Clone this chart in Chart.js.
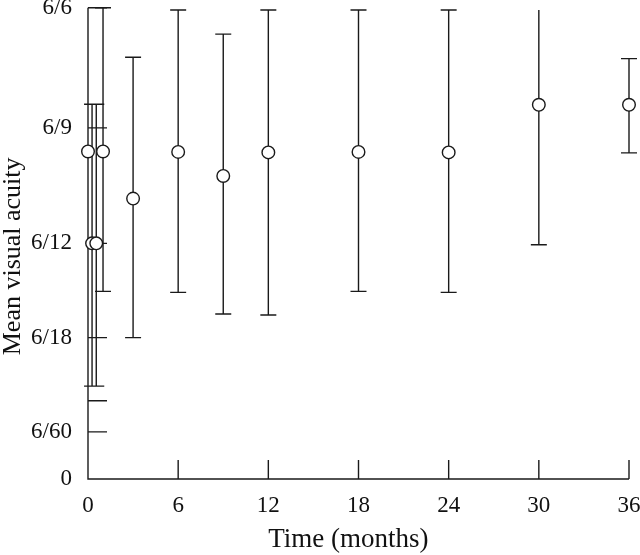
<!DOCTYPE html>
<html>
<head>
<meta charset="utf-8">
<script src="https://cdn.jsdelivr.net/npm/chart.js@4.4.1/dist/chart.umd.min.js"></script>
<style>
  html, body { margin: 0; padding: 0; background: #fff; }
  #wrap { width: 640px; height: 555px; }
</style>
</head>
<body>
<div id="wrap"><canvas id="c" width="640" height="555"></canvas></div>
<script>
// ---- data (time in months; acuity on the chart's own vertical scale) ----
const times  = [0, 0.27, 0.55, 1, 3, 6, 9, 12, 18, 24, 30, 36];
const means  = [6.95, 5.0, 5.0, 6.95, 5.95, 6.94, 6.43, 6.93, 6.94, 6.93, 7.94, 7.94];
const upper  = [null, 7.95, 7.95, 10.0, 8.95, 9.95, 9.44, 9.95, 9.95, 9.95, 9.95, 8.92];
const lower  = [null, 1.97, 1.97, 3.98, 3.0, 3.96, 3.5, 3.48, 3.98, 3.96, 4.97, 6.92];

const xTicks = [0, 6, 12, 18, 24, 30, 36];
const yTickValues = [0, 1, 1.66, 3, 5, 7.45, 10];
const yTickLabels = ['0', '6/60', '', '6/18', '6/12', '6/9', '6/6'];

const INK = '#1a1a1a';

const errorBars = {
  id: 'errorBars',
  beforeDatasetsDraw(chart) {
    const {ctx, scales: {x, y}} = chart;
    ctx.save();
    ctx.strokeStyle = INK;
    ctx.lineWidth = 1.4;
    ctx.beginPath();
    times.forEach((t, i) => {
      if (upper[i] == null || lower[i] == null) return;
      const px = x.getPixelForValue(t);
      const pt = y.getPixelForValue(upper[i]);
      const pb = y.getPixelForValue(lower[i]);
      ctx.moveTo(px, pt); ctx.lineTo(px, pb);
      if (t !== 30) { ctx.moveTo(px - 8, pt); ctx.lineTo(px + 8, pt); }
      ctx.moveTo(px - 8, pb); ctx.lineTo(px + 8, pb);
    });
    ctx.stroke();
    ctx.restore();
  }
};

const inwardAxes = {
  id: 'inwardAxes',
  beforeDatasetsDraw(chart) {
    const {ctx, scales: {x, y}, chartArea: a} = chart;
    ctx.save();
    ctx.strokeStyle = INK;
    ctx.lineWidth = 1.4;
    ctx.beginPath();
    ctx.moveTo(a.left, a.top); ctx.lineTo(a.left, a.bottom); ctx.lineTo(a.right, a.bottom);
    x.ticks.forEach(tk => {
      const px = x.getPixelForValue(tk.value);
      ctx.moveTo(px, a.bottom); ctx.lineTo(px, a.bottom - 19);
    });
    y.ticks.forEach(tk => {
      const py = y.getPixelForValue(tk.value);
      ctx.moveTo(a.left, py); ctx.lineTo(a.left + 19, py);
    });
    ctx.stroke();
    ctx.restore();
  }
};

const noEdgePadding = s => { s.paddingTop = 0; s.paddingBottom = 0; s.paddingLeft = 0; s.paddingRight = 0; };

Chart.defaults.font.family = "'Liberation Serif', 'Times New Roman', serif";
Chart.defaults.color = '#111';

new Chart(document.getElementById('c'), {
  type: 'scatter',
  data: {
    datasets: [{
      data: times.map((t, i) => ({x: t, y: means[i]})),
      showLine: false,
      pointRadius: 6.3,
      pointHoverRadius: 6.3,
      pointBackgroundColor: '#fff',
      pointBorderColor: INK,
      pointBorderWidth: 1.4,
      clip: false
    }]
  },
  options: {
    responsive: false,
    animation: false,
    events: [],
    layout: { padding: { top: 7, right: 11, left: 0, bottom: 0 } },
    plugins: { legend: { display: false }, tooltip: { enabled: false } },
    scales: {
      x: {
        type: 'linear', min: 0, max: 36,
        afterBuildTicks: s => { s.ticks = xTicks.map(v => ({value: v})); },
        afterFit: s => { s.height = 76; noEdgePadding(s); },
        grid: { display: false, drawTicks: false },
        border: { display: false },
        ticks: { padding: 13, font: { size: 23 }, color: '#111', maxRotation: 0, autoSkip: false },
        title: { display: true, text: 'Time (months)\u00a0\u00a0\u00a0', font: { size: 27, lineHeight: 1.15 }, padding: 0, color: '#111' }
      },
      y: {
        type: 'linear', min: 0, max: 10,
        afterBuildTicks: s => { s.ticks = yTickValues.map(v => ({value: v})); },
        afterFit: s => { s.width = 88; noEdgePadding(s); },
        grid: { display: false, drawTicks: false },
        border: { display: false },
        ticks: {
          padding: 16, font: { size: 23, lineHeight: 0.6 }, color: '#111', autoSkip: false,
          callback: v => { const k = yTickValues.indexOf(v); return k >= 0 ? yTickLabels[k] : ''; }
        },
        title: { display: true, text: 'Mean visual acuity\u00a0\u00a0\u00a0\u00a0', font: { size: 26, lineHeight: 1.0 }, padding: 0, color: '#111' }
      }
    }
  },
  plugins: [inwardAxes, errorBars]
});
</script>
</body>
</html>
